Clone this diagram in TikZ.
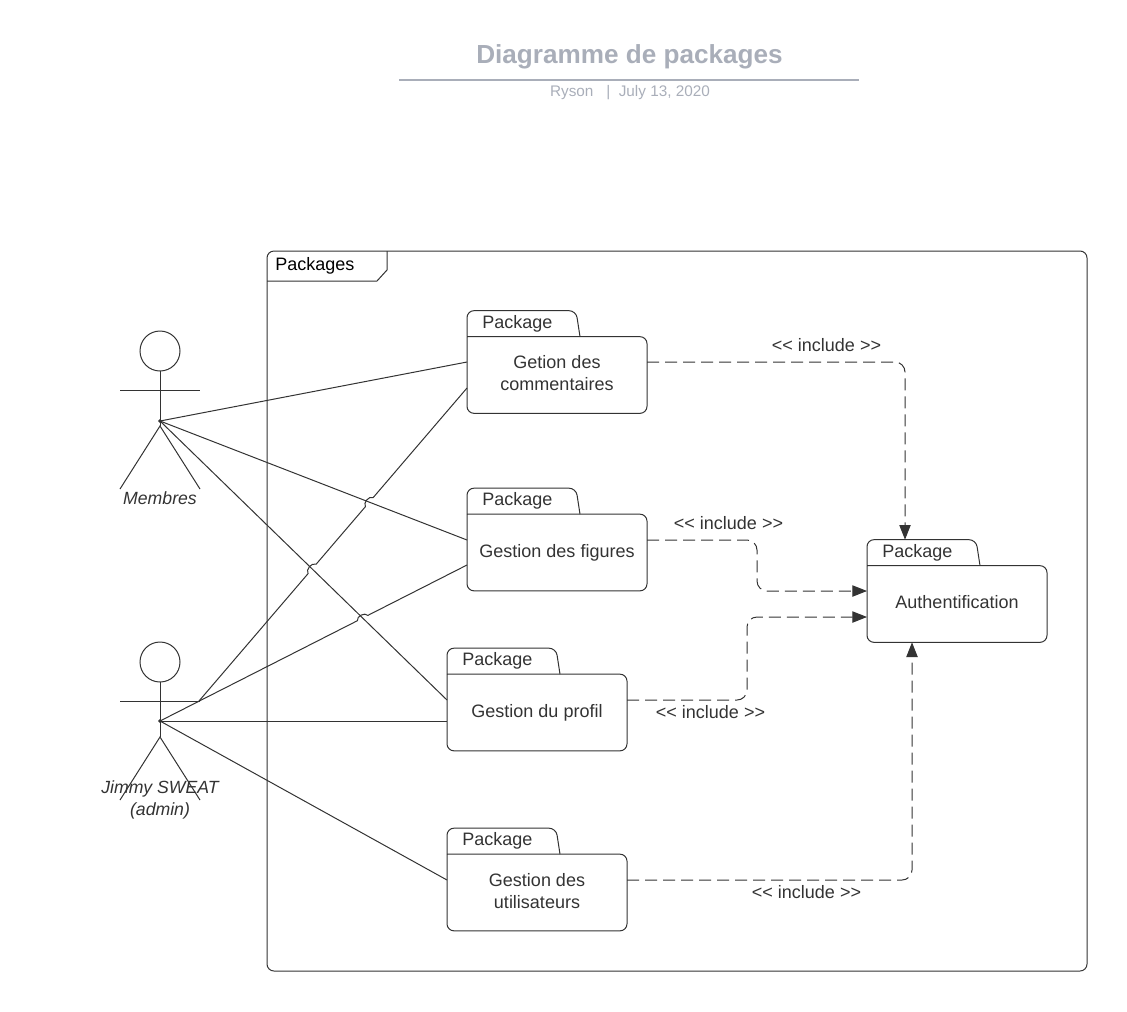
\documentclass[tikz,border=0pt]{standalone}
\usepackage{fontspec}
\setmainfont{Liberation Sans}
\usetikzlibrary{arrows.meta,calc}
\definecolor{inkgrey}{HTML}{333333}
\definecolor{titlegrey}{HTML}{A9AEB9}
\tikzset{
    pkgbody/.style={minimum width=135pt, minimum height=57.5pt, inner sep=0pt, outer sep=0pt},
    pkgname/.style={align=center, inner sep=0pt, text=inkgrey, font=\fontsize{13.5}{16.5}\selectfont},
    pkgline/.style={draw=inkgrey, line width=.75pt, rounded corners=5.25pt},
    pkgtext/.style={anchor=west, inner sep=0pt, text=inkgrey, font=\fontsize{13.5}{16.5}\selectfont},
    actorline/.style={draw=inkgrey, line width=.75pt},
    actorname/.style={align=center, inner sep=0pt, text=inkgrey, font=\fontsize{13.25}{16.5}\selectfont\itshape},
    assoc/.style={draw=inkgrey, line width=.75pt},
    incl/.style={draw=inkgrey, line width=.75pt, dash pattern=on 9pt off 4.5pt, rounded corners=7.5pt, -{Triangle[length=11pt,width=8.5pt]}},
    incltext/.style={inner sep=0pt, text=inkgrey, font=\fontsize{13.5}{16.5}\selectfont}
}
% package: name, x, y, text, text offset
\newcommand{\pkgnode}[5]{
    \node[pkgbody] (#1) at (#2, #3) {};
    \node[pkgname] (#1name) at ($(#1)+(0, #5)$) {#4};
    \draw[pkgline] (#1.north west) -- (#1.north east) -- (#1.south east) -- (#1.south west) -- (#1.north west);
    \draw[pkgline] (#1.north west) -- ++(0, -26) -- ++(109, 0) -- ++(4, 26);
    \node[pkgtext] (#1tab) at ($(#1.north west)+(15, -13)$) {Package};
}
% actor: name, top of head
\newcommand{\actornode}[2]{
    \node[actorline, circle, minimum size=30pt, inner sep=0pt, outer sep=0pt] (#1head) at (160, #2+20) {};
    \coordinate (#1hip) at (160, #2+95);
    \draw[actorline] (#1head.south) -- (#1hip);
    \draw[actorline] (120, #2+59) -- (200, #2+59);
    \draw[actorline] (120, #2+158) -- (#1hip) -- (200, #2+158);
}

\begin{document}
\begin{tikzpicture}[x=.75pt, y=-.75pt]
    \useasboundingbox (0, 0) rectangle (1127, 1011);

    % title
    \node[inner sep=0pt, text=titlegrey, font=\fontsize{19.6}{24}\selectfont\bfseries] (title) at (629.5, 57) {Diagramme de packages};
    \coordinate (ruleleft) at (399, 80);
    \coordinate (ruleright) at (859, 80);
    \draw[titlegrey, line width=1.1pt] (ruleleft) -- (ruleright);
    \node[inner sep=0pt, text=titlegrey, font=\fontsize{11.5}{14}\selectfont] (subtitle) at (630, 93) {Ryson\ \ \ |\ \ July 13, 2020};

    % frame
    \coordinate (framenw) at (267, 251);
    \coordinate (framese) at (1087, 971);
    \draw[pkgline] (framenw) rectangle (framese);
    \draw[draw=inkgrey, line width=.75pt] (267, 281) -- (377, 281) -- (387, 270) -- (387, 251);
    \node[anchor=west, inner sep=0pt, font=\fontsize{13.5}{16.5}\selectfont] (framename) at (275, 266) {Packages};

    % packages
    \pkgnode{gcom}{557}{375}{Getion des\\commentaires}{-2}
    \pkgnode{gfig}{557}{552.5}{Gestion des figures}{0}
    \pkgnode{gprof}{537}{712.5}{Gestion du profil}{0}
    \pkgnode{guser}{537}{892.5}{Gestion des\\utilisateurs}{-1}
    \pkgnode{auth}{957}{604}{Authentification}{-2}

    % actors
    \actornode{mem}{331}
    \actornode{adm}{642}
    \node[actorname] (memname) at (160, 498) {Membres};
    \node[actorname] (admname) at (160, 800) {Jimmy SWEAT\\(admin)};
    \coordinate (memdot) at (160, 421);
    \coordinate (admdot) at (160, 721);
    \coordinate (admarm) at (199, 701);
    \filldraw[inkgrey] (memdot) circle (1.2pt);
    \filldraw[inkgrey] (admdot) circle (1.2pt);

    % associations
    \draw[assoc] (memdot) -- ($(gcom.west)+(0, -13)$);
    \draw[assoc] (memdot) -- ($(gfig.west)+(0, -12.5)$);
    \draw[assoc] (memdot) -- ($(gprof.west)+(0, -12.5)$);
    \draw[assoc] (admarm) -- ($(admarm)!.407!($(gcom.west)+(0, 13)$)$) to[bend left=75] ($(admarm)!.437!($(gcom.west)+(0, 13)$)$) -- ($(admarm)!.621!($(gcom.west)+(0, 13)$)$) to[bend left=75] ($(admarm)!.650!($(gcom.west)+(0, 13)$)$) -- ($(gcom.west)+(0, 13)$);
    \draw[assoc] (admdot) -- ($(admdot)!.643!($(gfig.west)+(0, 12.5)$)$) to[bend left=75] ($(admdot)!.677!($(gfig.west)+(0, 12.5)$)$) -- ($(gfig.west)+(0, 12.5)$);
    \draw[assoc] (admdot) -- ($(gprof.west)+(0, 8.5)$);
    \draw[assoc] (admdot) -- ($(guser.west)+(0, -12.5)$);

    % includes
    \draw[incl] ($(gcom.east)+(0, -13)$) -| ($(auth.north west)+(38, -26)$);
    \draw[incl] ($(gfig.east)+(0, -12.5)$) -- (757, 540) -- (757, 591) -- ($(auth.west)+(0, -13)$);
    \draw[incl] ($(gprof.east)+(0, -12.5)$) -- (747, 700) -- (747, 617) -- ($(auth.west)+(0, 13)$);
    \draw[incl] ($(guser.east)+(0, -12.5)$) -| ($(auth.south west)+(45, 0)$);
    \node[incltext] (inclcom) at (826.5, 345) {<{}< include >{}>};
    \node[incltext] (inclfig) at (728.5, 523) {<{}< include >{}>};
    \node[incltext] (inclprof) at (710.5, 712) {<{}< include >{}>};
    \node[incltext] (incluser) at (806.5, 892) {<{}< include >{}>};
\end{tikzpicture}
\end{document}
